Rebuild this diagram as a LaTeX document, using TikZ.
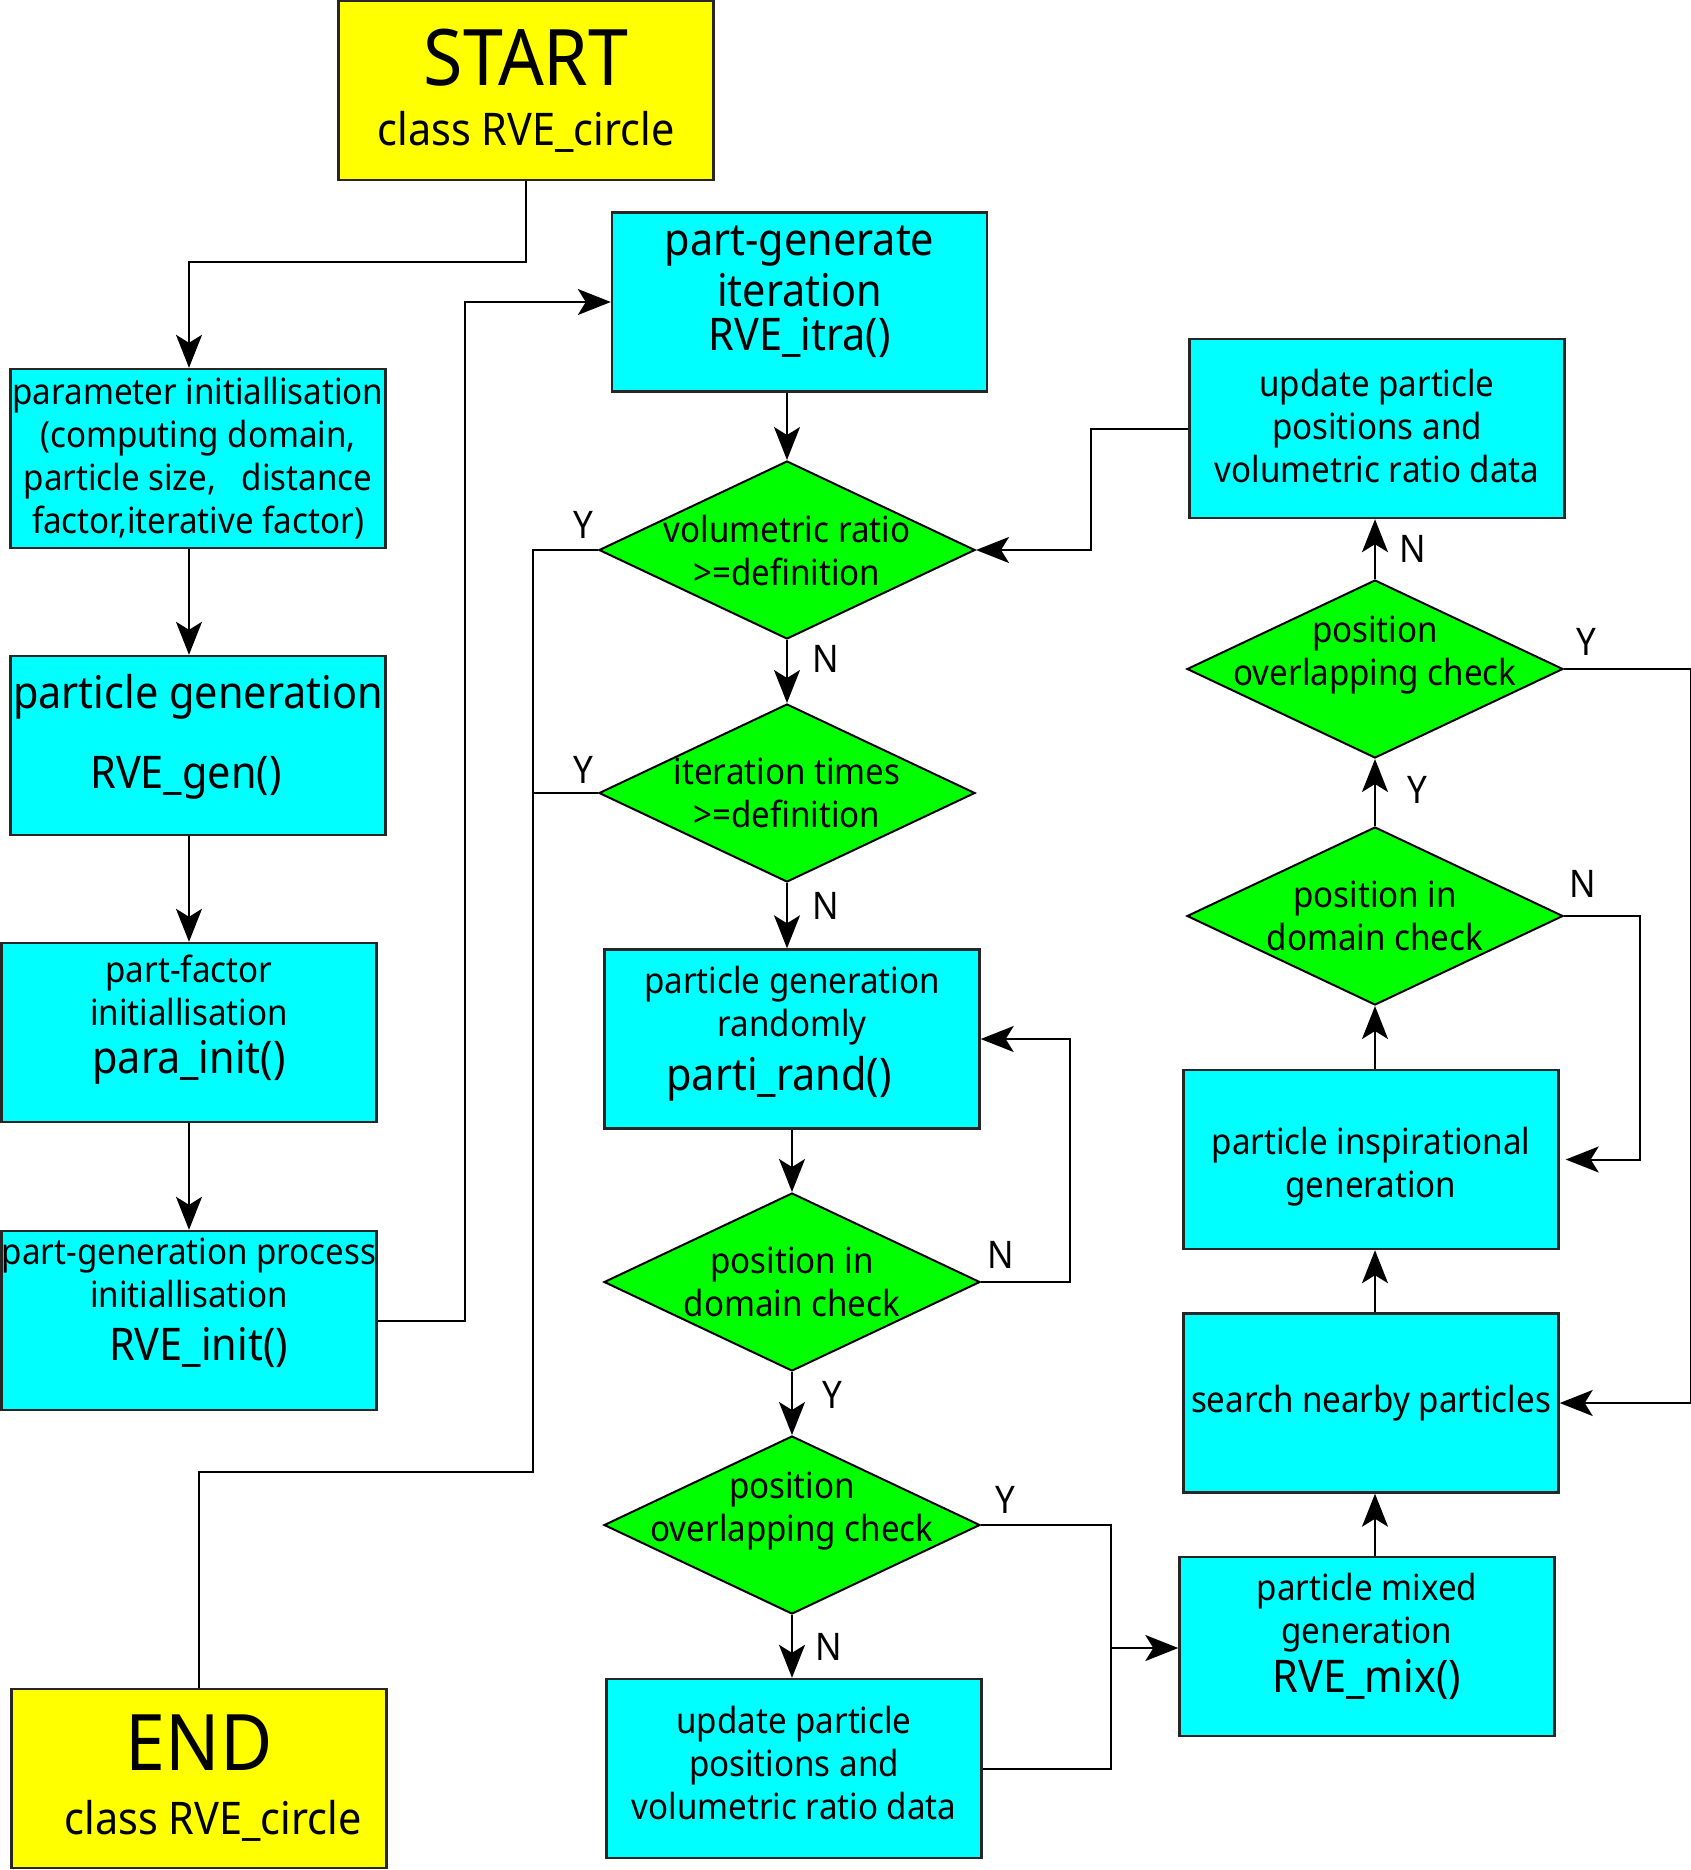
\documentclass[tikz,border=0pt]{standalone}
\usepackage{fontspec}
\setmainfont{Noto Sans}[FakeStretch=0.92]
\usetikzlibrary{shapes.geometric,arrows.meta}
\definecolor{boxcyan}{HTML}{00FFFF}
\definecolor{boxyellow}{HTML}{FFFF00}
\definecolor{checkgreen}{HTML}{00FF00}
\newcommand{\fnsmall}{\fontsize{18}{21.5}\selectfont}
\newcommand{\fnbig}{\fontsize{22.5}{24}\selectfont}
\newcommand{\fnhuge}{\fontsize{39}{40}\selectfont}
% struts that move a box text up (extra depth) or down (extra height)
\newcommand{\txtup}[1]{\rule[-#1]{0pt}{0pt}}
\newcommand{\txtdown}[1]{\rule{0pt}{#1}}
\tikzset{
  box/.style={draw=black!85, line width=1.2pt, minimum width=187.5pt, minimum height=89.5pt, align=center, inner sep=0pt},
  procbox/.style={box, fill=boxcyan},
  termbox/.style={box, fill=boxyellow},
  decision/.style={diamond, draw=black, line width=1pt, fill=checkgreen, minimum width=188pt, minimum height=89pt, inner sep=0pt},
  dtext/.style={align=center, font=\fnsmall, inner sep=0pt},
  yn/.style={font=\fontsize{19}{21}\selectfont, inner sep=0pt},
  arr/.style={-{Stealth[length=16.5pt,width=13pt,inset=4pt]}},
}
\begin{document}
\begin{tikzpicture}[x=0.5pt,y=-0.5pt,line width=1pt]
\useasboundingbox (0,0) rectangle (1691,1870);
% left column
\node[termbox, font=\fnbig] (start) at (526,90.5) {{\fnhuge START}\\[6pt]class RVE\_circle};
\node[procbox, font=\fnsmall] (param) at (198,458.5) {parameter initiallisation\\(computing domain,\\particle size,\ \ \ distance\\factor,iterative factor)};
\node[procbox, font=\fnbig] (gen) at (198,745.5) {particle generation\\[16pt]RVE\_gen()\hspace*{12pt}\txtup{14.2pt}};
\node[procbox, font=\fnsmall] (factor) at (189,1032.5) {part-factor\\initiallisation\\[2.5pt]{\fnbig para\_init()}\txtup{17.8pt}};
\node[procbox, font=\fnsmall] (init) at (189,1320.5) {part-generation process\\initiallisation\\[5pt]\hspace*{9.5pt}{\fnbig RVE\_init()}\txtup{21.2pt}};
\node[termbox, font=\fnbig] (end) at (199,1778.5) {{\fnhuge END}\\[8pt]\hspace*{14pt}class RVE\_circle};
% middle column
\node[procbox, font=\fnbig] (itra) at (799.5,302) {part-generate\\[1.5pt]iteration\\[-2pt]RVE\_itra()\txtup{14.2pt}};
\node[decision, label={[dtext, name=d1t]center:{volumetric ratio\\>=definition}}] (d1) at (787,550) {};
\node[decision, label={[dtext, name=d2t]center:{iteration times\\>=definition}}] (d2) at (787,793) {};
\node[procbox, font=\fnsmall] (rand) at (792,1039) {particle generation\\randomly\\[5.5pt]{\fnbig parti\_rand()}\hspace*{13pt}\txtup{10.6pt}};
\node[decision, label={[dtext, name=d3t]center:{position in\\domain check}}] (d3) at (792,1282) {};
\node[decision, label={[dtext, name=d4t, yshift=7pt]center:{position\\overlapping check}}] (d4) at (792,1525) {};
\node[procbox, font=\fnsmall] (upd1) at (794,1768.5) {update particle\\positions and\\volumetric ratio data\txtup{6pt}};
% right column
\node[procbox, font=\fnsmall] (upd2) at (1377,428.5) {update particle\\positions and\\volumetric ratio data\txtup{2.4pt}};
\node[decision, label={[dtext, name=r1t, yshift=7pt]center:{position\\overlapping check}}] (r1) at (1375,669) {};
\node[decision, label={[dtext, name=r2t]center:{position in\\domain check}}] (r2) at (1375,916) {};
\node[procbox, font=\fnsmall] (insp) at (1371,1159.5) {\txtdown{21pt}particle inspirational\\generation};
\node[procbox, font=\fnsmall] (search) at (1371,1403) {search nearby particles};
\node[procbox, font=\fnsmall] (mix) at (1367,1646.5) {particle mixed\\generation\\[3pt]{\fnbig RVE\_mix()}\txtup{14.2pt}};
% joints
\coordinate (yjoin) at (533,1472);
\coordinate (mjoin) at (1111,1648);
% connectors
\draw[arr] (start.south) -- ++(0,81) -| (param.north -| factor.north);
\draw[arr] (param.south -| factor.south) -- (gen.north -| factor.north);
\draw[arr] (gen.south -| factor.south) -- (factor.north);
\draw[arr] (factor.south) -- (init.north);
\draw[arr] (init.east) -- ++(87,0) |- (itra.west);
\draw[arr] (itra.south -| d1.north) -- (d1.north);
\draw (d1.west) -| (yjoin) -| (end.north);
\draw (d2.west) -- (d2.west -| yjoin);
\draw[arr] (d1.south) -- (d2.north);
\draw[arr] (d2.south) -- (rand.north -| d2.south);
\draw[arr] (rand.south) -- (d3.north);
\draw[arr] (d3.east) -- ++(89,0) |- (rand.east);
\draw[arr] (d3.south) -- (d4.north);
\draw[arr] (d4.south) -- (upd1.north -| d4.south);
\draw (d4.east) -| (mjoin) |- (upd1.east);
\draw[arr] (mjoin) -- (mjoin -| mix.west);
\draw[arr] (mix.north -| r1.south) -- (search.south -| r1.south);
\draw[arr] (search.north -| r1.south) -- (insp.south -| r1.south);
\draw[arr] (insp.north -| r1.south) -- (r2.south);
\draw[arr] (r2.north) -- (r1.south);
\draw[arr] (r1.north) -- (upd2.south -| r1.north);
\draw[arr] (upd2.west) -- ++(-97,0) |- (d1.east);
\draw[arr] (r2.east) -- ++(76,0) |- ([xshift=3pt]insp.east);
\draw[arr] (r1.east) -- ++(127,0) |- (search.east);
% Y / N marks
\node[yn] (yd1) at (583,525) {Y};
\node[yn] (yd2) at (583,770) {Y};
\node[yn] (nd1) at (826,659) {N};
\node[yn] (nd2) at (826,906) {N};
\node[yn] (nd3) at (1001,1255) {N};
\node[yn] (yd3) at (832,1395) {Y};
\node[yn] (nd4) at (829,1647) {N};
\node[yn] (yd4) at (1005,1500) {Y};
\node[yn] (nr1) at (1413,549) {N};
\node[yn] (yr2) at (1417,790) {Y};
\node[yn] (yr1) at (1586,642) {Y};
\node[yn] (nr2) at (1583,884) {N};
\end{tikzpicture}
\end{document}
